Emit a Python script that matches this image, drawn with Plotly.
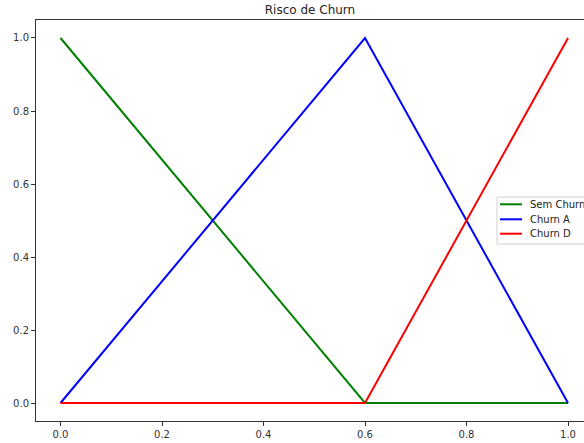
import plotly.graph_objects as go

# Membership functions of churn risk
x_vals = [0.0, 0.6, 1.0]
sem_churn = [1.0, 0.0, 0.0]
churn_a = [0.0, 1.0, 0.0]
churn_d = [0.0, 0.0, 1.0]

series = [
    ("Sem Churn", sem_churn, "#008000"),
    ("Churn A", churn_a, "#0000ff"),
    ("Churn D", churn_d, "#ff0000"),
]

tick_vals = [0.0, 0.2, 0.4, 0.6, 0.8, 1.0]
tick_text = ["0.0", "0.2", "0.4", "0.6", "0.8", "1.0"]

W, H = 584, 443
L, R, T, B = 36, 0, 20, 22
plot_w, plot_h = W - L - R, H - T - B


def px(x):
    return (x - L) / plot_w


def py(y):
    return (H - B - y) / plot_h


fig = go.Figure()
for name, ys, color in series:
    fig.add_trace(go.Scatter(x=x_vals, y=ys, mode="lines", name=name,
                             line=dict(color=color, width=2),
                             showlegend=False))

axis_common = dict(
    showgrid=False, zeroline=False, showline=True, linecolor="#333333",
    linewidth=1, ticks="outside", ticklen=4, tickcolor="#333333",
    tickfont=dict(family="DejaVu Sans", size=10, color="#333333"),
    tickvals=tick_vals, ticktext=tick_text,
)

# Legend box, drawn as shapes and annotations
shapes = [dict(type="rect", xref="paper", yref="paper",
               x0=px(497), x1=px(610), y0=py(244), y1=py(197),
               line=dict(color="#d0d0d0", width=1), fillcolor="rgba(255,255,255,0.9)",
               layer="above")]
annotations = []
legend_rows = [204.3, 219.3, 233.7]
for (name, _, color), row in zip(series, legend_rows):
    shapes.append(dict(type="line", xref="paper", yref="paper",
                       x0=px(500), x1=px(522), y0=py(row), y1=py(row),
                       line=dict(color=color, width=2), layer="above"))
    annotations.append(dict(text=name, xref="paper", yref="paper",
                            x=px(528), y=py(row), xanchor="left", yanchor="middle",
                            showarrow=False,
                            font=dict(family="DejaVu Sans", size=10, color="#222222")))

fig.update_layout(
    width=W, height=H,
    margin=dict(l=L, r=R, t=T, b=B, autoexpand=False),
    plot_bgcolor="white", paper_bgcolor="white",
    title=dict(text="Risco de Churn", x=0.5, xref="paper", xanchor="center",
               y=1 - 9.5 / H, yanchor="middle",
               font=dict(family="DejaVu Sans", size=12, color="#222222")),
    xaxis=dict(range=[-0.0483, 1.0315], mirror=True, **axis_common),
    yaxis=dict(range=[-0.0493, 1.0493], mirror=False, **axis_common),
    shapes=shapes,
    annotations=annotations,
    showlegend=False,
)

fig.write_html("out.html")
